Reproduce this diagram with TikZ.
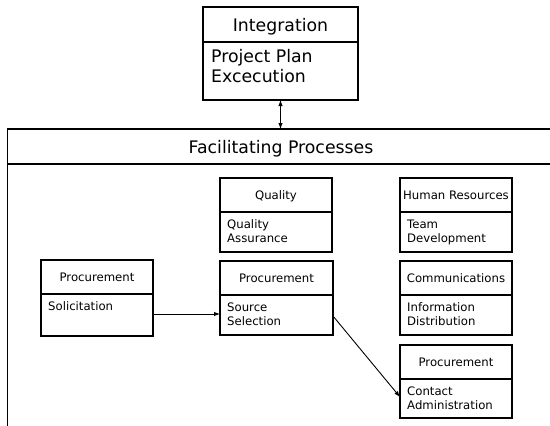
\documentclass[tikz,border=0pt]{standalone}
\usepackage{fontspec}
\setmainfont{DejaVu Sans}
\usetikzlibrary{arrows.meta}
\tikzset{
  box/.style={draw, line width=1.1pt, inner sep=0pt, outer sep=0pt},
  divline/.style={line width=1.1pt},
  frameline/.style={line width=1.2pt},
  smalltxt/.style={inner sep=0pt, font=\fontsize{11.7}{14}\selectfont},
  bigtxt/.style={inner sep=0pt, font=\fontsize{17.3}{20}\selectfont},
  arr/.style={line width=0.9pt, -{Latex[length=6pt,width=4.5pt]}},
  darr/.style={line width=0.9pt, {Latex[length=6pt,width=4.5pt]}-{Latex[length=6pt,width=4.5pt]}}
}
% name, left, top, right, bottom, divider, title, line1, line2
\newcommand{\umlbox}[9]{%
  \node[box, minimum width={#4-#2}, minimum height={#5-#3}] (#1) at ({(#2+#4)/2},{(#3+#5)/2}) {};
  \draw[divline] (#2,#6) -- (#4,#6);
  \node[smalltxt, anchor=base] (#1-title) at ({(#2+#4)/2},{(#3+#6)/2+4.3}) {#7};
  \node[smalltxt, anchor=base west] (#1-l1) at (#2+7,#6+16) {#8};
  \node[smalltxt, anchor=base west] (#1-l2) at (#2+7,#6+30) {#9};
}
\begin{document}
\begin{tikzpicture}[x=1pt,y=-1pt]
\useasboundingbox (0,0) rectangle (550,426);

% Integration box
\node[box, minimum width=155pt, minimum height=93pt] (integ) at (280.5,53.5) {};
\draw[divline] (203,42) -- (358,42);
\node[bigtxt, anchor=base] (integ-title) at (280.5,31.5) {Integration};
\node[bigtxt, anchor=base west] (integ-l1) at (211,62) {Project Plan};
\node[bigtxt, anchor=base west] (integ-l2) at (211,82) {Excecution};

% Facilitating processes frame
\coordinate (ftop) at (280.5,129);
\draw[frameline] (551,129) -- (7.5,129) -- (7.5,427);
\draw[frameline] (7.5,164) -- (551,164);
\node[bigtxt, anchor=base] (facil) at (281,153) {Facilitating Processes};

% Boxes
\umlbox{qual}{220}{178}{332}{252}{212}{Quality}{Quality}{Assurance}
\umlbox{hr}{400}{178}{512}{252}{212}{Human Resources}{Team}{Development}
\umlbox{sol}{41}{260}{153}{336}{294}{Procurement}{Solicitation}{}
\umlbox{src}{220}{261}{333}{335}{295}{Procurement}{Source}{Selection}
\umlbox{comm}{400}{261}{512}{335}{295}{Communications}{Information}{Distribution}
\umlbox{cont}{400}{345}{512}{418}{379}{Procurement}{Contact}{Administration}

% Connectors
\draw[darr] (integ.south) -- (integ.south |- ftop);
\draw[arr] ([yshift=-16pt]sol.east) -- ([yshift=-16pt]sol.east -| src.west);
\draw[arr] ([yshift=-18pt]src.east) -- ([yshift=-15.5pt]cont.west);
\end{tikzpicture}
\end{document}
